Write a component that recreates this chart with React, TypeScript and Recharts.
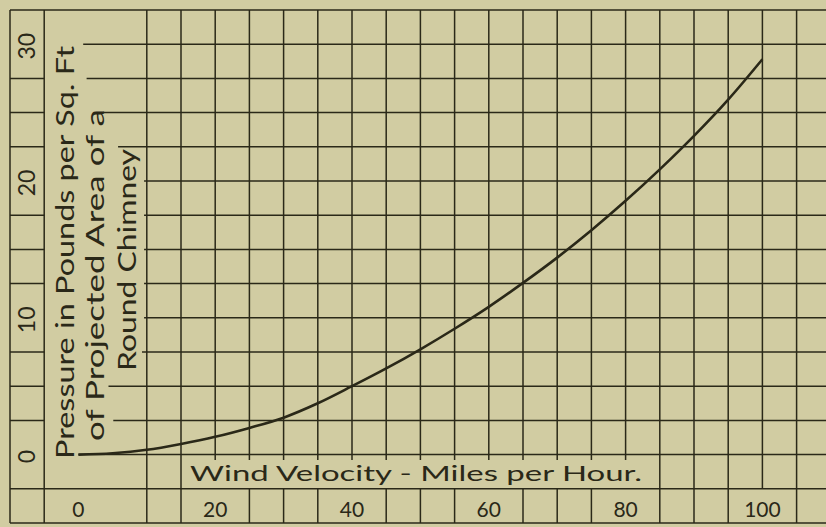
import { ComposedChart, Customized, Line, ReferenceLine, XAxis, YAxis } from 'recharts';

// Wind velocity (mph) vs pressure (lb per sq ft) on a round chimney
const speeds = [0, 5, 10, 15, 20, 25, 30, 35, 40, 45, 50, 55, 60, 65, 70, 75, 80, 85, 90, 95, 100];
const pressures = [
  0, 0.1, 0.35, 0.78, 1.3, 1.95, 2.7, 3.75, 5.0, 6.3, 7.7, 9.2, 10.8, 12.55, 14.4, 16.4, 18.55,
  20.85, 23.3, 25.95, 28.9,
];
const xTicks = [0, 20, 40, 60, 80, 100];
const yTicks = [0, 10, 20, 30];

const curve = speeds.map((v, i) => ({ v, p: pressures[i] }));

// grid paper: 5 mph by 2.5 lb cells
const X_MIN = -10;
const X_MAX = 110;
const Y_MIN = -5;
const Y_MAX = 32.5;
const TITLE_TOP = -0.4; // vertical lines stop at the top of the x title

// where each horizontal line resumes to the right of the y title
const hStart: Record<string, number> = {
  '30': 0.7,
  '27.5': 1.2,
  '25': 3.6,
  '22.5': 5.8,
  '20': 9.6,
  '17.5': 9.6,
  '15': 9.6,
  '12.5': 9.6,
  '10': 9.6,
  '7.5': 9.3,
  '5': 4.4,
  '2.5': 5.1,
  '0': 0,
};

const INK = '#2a2818';
const PAPER = '#d1cca2';
const FONT = 'Lato, "DejaVu Sans", sans-serif';

type Seg = [[number, number], [number, number]];

function gridSegments(): Seg[] {
  const segs: Seg[] = [];
  // vertical lines
  const vx: number[] = [-10, -5];
  for (let x = 10; x <= 110; x += 5) vx.push(x);
  vx.forEach((x) => {
    if (x <= 15 || x >= 85) {
      const bottom = xTicks.includes(x) ? -2.5 : Y_MIN;
      segs.push([[x, bottom], [x, Y_MAX]]);
    } else {
      segs.push([[x, TITLE_TOP], [x, Y_MAX]]);
      if (!xTicks.includes(x)) segs.push([[x, Y_MIN], [x, -2.5]]);
    }
  });
  // horizontal lines
  for (let y = Y_MIN; y <= Y_MAX; y += 2.5) {
    if (y === Y_MIN || y === -2.5 || y === Y_MAX) {
      segs.push([[X_MIN, y], [X_MAX, y]]);
      continue;
    }
    if (!yTicks.includes(y)) segs.push([[X_MIN, y], [-5, y]]);
    segs.push([[hStart[String(y)] ?? 0, y], [X_MAX, y]]);
  }
  return segs;
}

const segments = gridSegments();

function XTick(props: any) {
  const { x, payload } = props;
  return (
    <text x={x} y={517} textAnchor="middle" fontFamily={FONT} fontSize={21} fill={INK}>
      {payload.value}
    </text>
  );
}

function YTick(props: any) {
  const { y, payload } = props;
  return (
    <text
      transform={`translate(35, ${y + 2}) rotate(-90)`}
      textAnchor="middle"
      fontFamily={FONT}
      fontSize={23}
      fill={INK}
    >
      {payload.value}
    </text>
  );
}

function Titles() {
  const common = { fontFamily: FONT, fill: INK } as const;
  return (
    <g>
      <text
        {...common}
        fontSize={25}
        transform="translate(74, 459) rotate(-90)"
        textLength={413}
        lengthAdjust="spacingAndGlyphs"
      >
        Pressure in Pounds per Sq. Ft
      </text>
      <text
        {...common}
        fontSize={25}
        transform="translate(104, 441) rotate(-90)"
        textLength={332}
        lengthAdjust="spacingAndGlyphs"
      >
        of Projected Area of a
      </text>
      <text
        {...common}
        fontSize={25}
        transform="translate(136, 371) rotate(-90)"
        textLength={222}
        lengthAdjust="spacingAndGlyphs"
      >
        Round Chimney
      </text>
      <text {...common} fontSize={21} x={190} y={481} textLength={452} lengthAdjust="spacingAndGlyphs">
        Wind Velocity - Miles per Hour.
      </text>
    </g>
  );
}

export default function App() {
  return (
    <div
      style={{
        position: 'absolute',
        left: 0,
        top: 0,
        width: 826,
        height: 527,
        overflow: 'hidden',
        background: PAPER,
      }}
    >
      <ComposedChart
        width={831}
        height={527}
        data={curve}
        margin={{ top: 10, right: 0.2, left: 0, bottom: 0 }}
      >
        <XAxis
          type="number"
          dataKey="v"
          domain={[X_MIN, X_MAX]}
          ticks={xTicks}
          interval={0}
          height={4}
          axisLine={false}
          tickLine={false}
          tick={<XTick />}
          allowDataOverflow
        />
        <YAxis
          type="number"
          domain={[Y_MIN, Y_MAX]}
          ticks={yTicks}
          interval={0}
          width={10}
          axisLine={false}
          tickLine={false}
          tick={<YTick />}
          allowDataOverflow
        />
        {segments.map((s, i) => (
          <ReferenceLine
            key={i}
            segment={[
              { x: s[0][0], y: s[0][1] },
              { x: s[1][0], y: s[1][1] },
            ]}
            stroke={INK}
            strokeWidth={1.5}
            ifOverflow="visible"
          />
        ))}
        <Customized component={Titles} />
        <Line
          type="monotone"
          dataKey="p"
          stroke={INK}
          strokeWidth={2.6}
          dot={false}
          isAnimationActive={false}
        />
      </ComposedChart>
    </div>
  );
}
